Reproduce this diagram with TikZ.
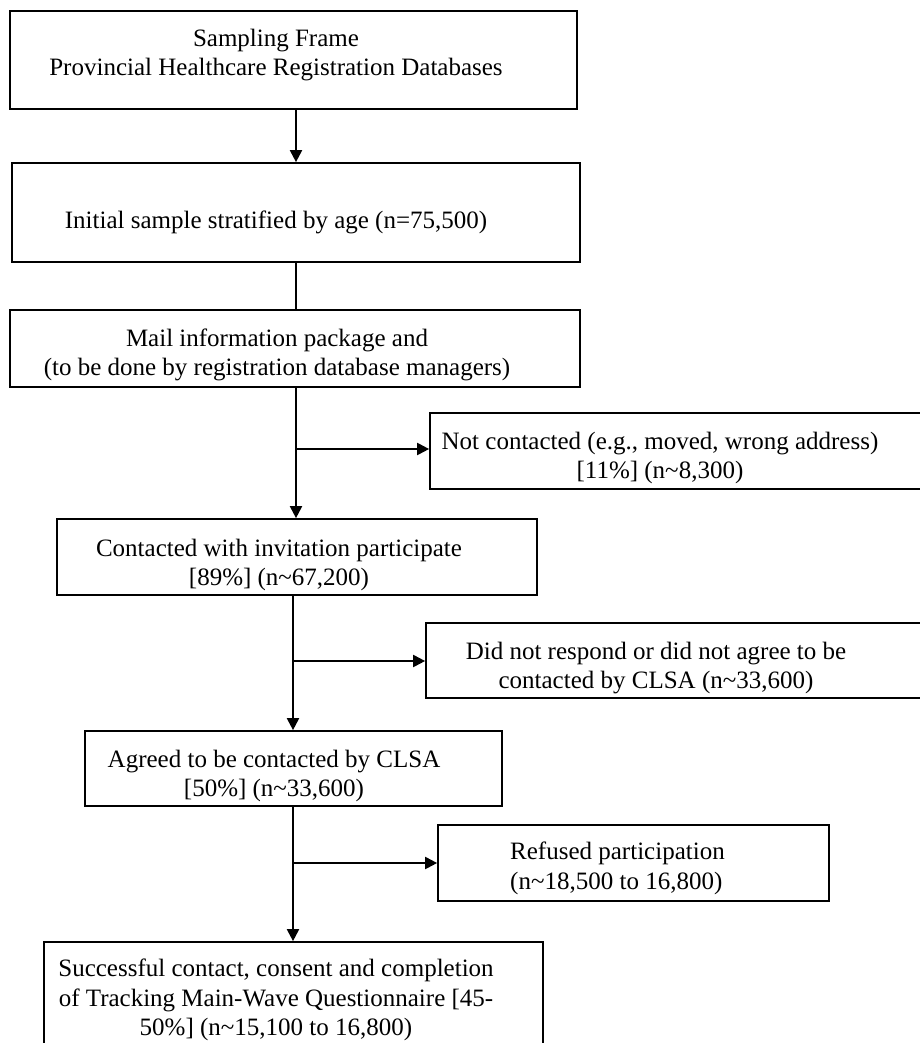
\documentclass[tikz,border=0pt]{standalone}
\usepackage{fontspec}
\setmainfont{Liberation Serif}
\usetikzlibrary{arrows.meta}

\begin{document}
\begin{tikzpicture}[x=1pt,y=-1pt,
  box/.style={draw=black, line width=1.7pt, rectangle, inner sep=0pt},
  txt/.style={align=center, inner sep=0pt, font=\fontsize{25}{29.5}\selectfont},
  link/.style={line width=2pt},
  arr/.style={line width=2pt, -{Triangle[length=12pt,width=12pt]}}]

\useasboundingbox (0,0) rectangle (919,1043);

% boxes (centre, width, height)
\node[box, minimum width=567pt, minimum height=98pt]  (b1) at (293.5,60)   {};
\node[box, minimum width=568pt, minimum height=99pt]  (b2) at (296,212.5)  {};
\node[box, minimum width=570pt, minimum height=77pt]  (b3) at (295,348.5)  {};
\node[box, minimum width=495pt, minimum height=76pt]  (bN) at (677.5,451)  {};
\node[box, minimum width=480pt, minimum height=76pt]  (b4) at (297,557)    {};
\node[box, minimum width=499pt, minimum height=75pt]  (bD) at (675.5,660.5) {};
\node[box, minimum width=417pt, minimum height=75pt]  (b5) at (293.5,768.5) {};
\node[box, minimum width=391pt, minimum height=76pt]  (bR) at (633.5,863)  {};
\node[box, minimum width=499pt, minimum height=128pt] (b7) at (293.5,1006) {};

% texts
\node[txt] (t1) at (276,55) {Sampling Frame\\Provincial Healthcare Registration Databases};
\node[txt] (t2) at (276,222) {Initial sample stratified by age (n=75,500)};
\node[txt] (t3) at (277,355) {Mail information package and\\(to be done by registration database managers)};
\node[txt] (tN) at (660,458) {Not contacted (e.g., moved, wrong address)\\{[11\%]} (n\textasciitilde 8,300)};
\node[txt] (t4) at (279,565) {Contacted with invitation participate\\{[89\%]} (n\textasciitilde 67,200)};
\node[txt] (tD) at (656,668) {Did not respond or did not agree to be\\contacted by CLSA (n\textasciitilde 33,600)};
\node[txt] (t5) at (274,776) {Agreed to be contacted by CLSA\\{[50\%]} (n\textasciitilde 33,600)};
\node[txt, align=left, anchor=west] (tR) at (510,868.5) {Refused participation\\(n\textasciitilde 18,500 to 16,800)};
\node[txt] (t7) at (276,1000) {Successful contact, consent and completion\\of Tracking Main-Wave Questionnaire [45-\\50\%] (n\textasciitilde 15,100 to 16,800)};

% branch points on the main flow
\coordinate (j1) at (296,449);
\coordinate (j2) at (293,661);
\coordinate (j3) at (293,863);

% connectors
\draw[arr]  (b1.south -| j1) -- (b2.north -| j1);
\draw[link] (b2.south -| j1) -- (b3.north -| j1);
\draw[arr]  (b3.south -| j1) -- (b4.north -| j1);
\draw[arr]  (j1) -- (j1 -| bN.west);
\draw[arr]  (b4.south -| j2) -- (b5.north -| j2);
\draw[arr]  (j2) -- (j2 -| bD.west);
\draw[arr]  (b5.south -| j3) -- (b7.north -| j3);
\draw[arr]  (j3) -- (j3 -| bR.west);

\end{tikzpicture}
\end{document}
